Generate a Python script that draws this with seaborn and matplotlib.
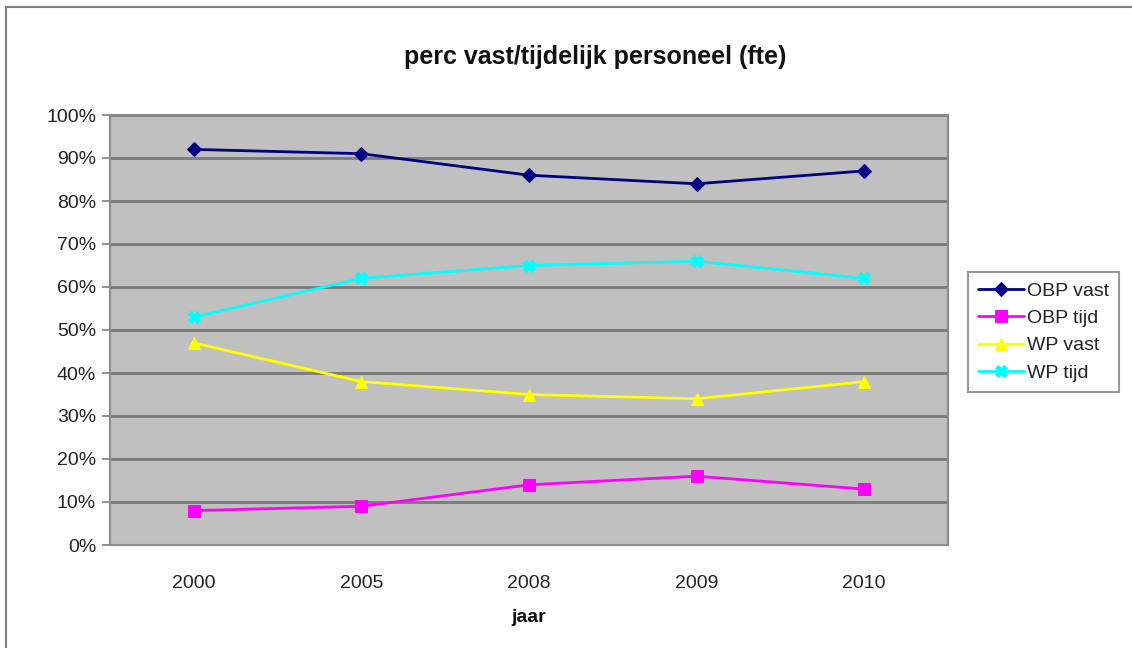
import numpy as np
import pandas as pd
import matplotlib
matplotlib.use("Agg")
import matplotlib.pyplot as plt
import seaborn as sns
from matplotlib.patches import Rectangle
from matplotlib.ticker import FuncFormatter, MultipleLocator

# data
years = ["2000", "2005", "2008", "2009", "2010"]
obp_vast = [92, 91, 86, 84, 87]
obp_tijd = [8, 9, 14, 16, 13]
wp_vast = [47, 38, 35, 34, 38]
wp_tijd = [53, 62, 65, 66, 62]

series_names = ["OBP vast", "OBP tijd", "WP vast", "WP tijd"]
series_values = [obp_vast, obp_tijd, wp_vast, wp_tijd]
colors = ["#000080", "#FF00FF", "#FFFF00", "#00FFFF"]
markers = ["D", "s", "^", "X"]
marker_sizes = [7, 9, 9, 8]

sns.set_theme(style="white")
plt.rcParams["font.family"] = ["Liberation Sans", "DejaVu Sans"]

df = pd.DataFrame({
    "jaar": years * len(series_names),
    "serie": np.repeat(series_names, len(years)),
    "waarde": np.concatenate(series_values) / 100.0,
})

fig = plt.figure(figsize=(11.32, 6.48), dpi=100)
ax = fig.add_axes([110 / 1132, 1 - 545 / 648, (948 - 110) / 1132, (545 - 115) / 648])
ax.set_facecolor("#C0C0C0")

# outer chart frame
fig.patches.append(Rectangle((6 / 1132, -0.05), 1.2, 1 - 7 / 648 + 0.05,
                             transform=fig.transFigure, fill=False,
                             edgecolor="#7f7f7f", linewidth=1.5))

for name, col, mk, ms in zip(series_names, colors, markers, marker_sizes):
    sub = df[df["serie"] == name]
    sns.lineplot(data=sub, x="jaar", y="waarde", ax=ax, color=col, marker=mk,
                 markersize=ms, markeredgecolor=col, markerfacecolor=col,
                 linewidth=2, label=name, sort=False, zorder=3)

ax.set_xlim(-0.5, len(years) - 0.5)
ax.set_ylim(0, 1.0)
ax.yaxis.set_major_locator(MultipleLocator(0.1))
ax.yaxis.set_major_formatter(FuncFormatter(lambda v, p: f"{v * 100:.0f}%"))
ax.grid(axis="y", color="#7a7a7a", linewidth=2, zorder=1)
ax.set_axisbelow(True)

# category boundary ticks like the original
ax.set_xticks(np.arange(len(years)))
ax.set_xticklabels(years)
ax.set_xticks(np.arange(-0.5, len(years)), minor=True)
ax.tick_params(axis="x", which="major", length=0, pad=28, labelsize=14, labelcolor="#222222")
ax.tick_params(axis="x", which="minor", length=6, width=1.2, color="#7f7f7f", direction="out")
ax.tick_params(axis="y", length=6, width=1.2, color="#7f7f7f", direction="out",
               labelsize=14, labelcolor="#222222", pad=4)
ax.tick_params(bottom=True, left=True)
for lbl in ax.get_xticklabels():
    lbl.set_va("center")

for side in ["left", "bottom", "top", "right"]:
    ax.spines[side].set_color("#8a8a8a")
    ax.spines[side].set_linewidth(1.5)

ax.set_xlabel("jaar", fontsize=14, fontweight="bold", labelpad=12, color="#111111")
ax.set_ylabel("")
fig.text(595 / 1132, 1 - 57 / 648, "perc vast/tijdelijk personeel (fte)",
         ha="center", va="center", fontsize=18, fontweight="bold", color="#111111")

leg = ax.legend(loc="center left", bbox_to_anchor=(968 / 1132, 1 - 332 / 648),
                bbox_transform=fig.transFigure, frameon=True, fancybox=False,
                fontsize=14, handlelength=2.4, handletextpad=0.15,
                borderpad=0.5, labelspacing=0.5, borderaxespad=0)
leg.get_frame().set_edgecolor("#7f7f7f")
leg.get_frame().set_linewidth(1.5)
for t in leg.get_texts():
    t.set_color("#222222")

fig.savefig("out.png", dpi=100)
